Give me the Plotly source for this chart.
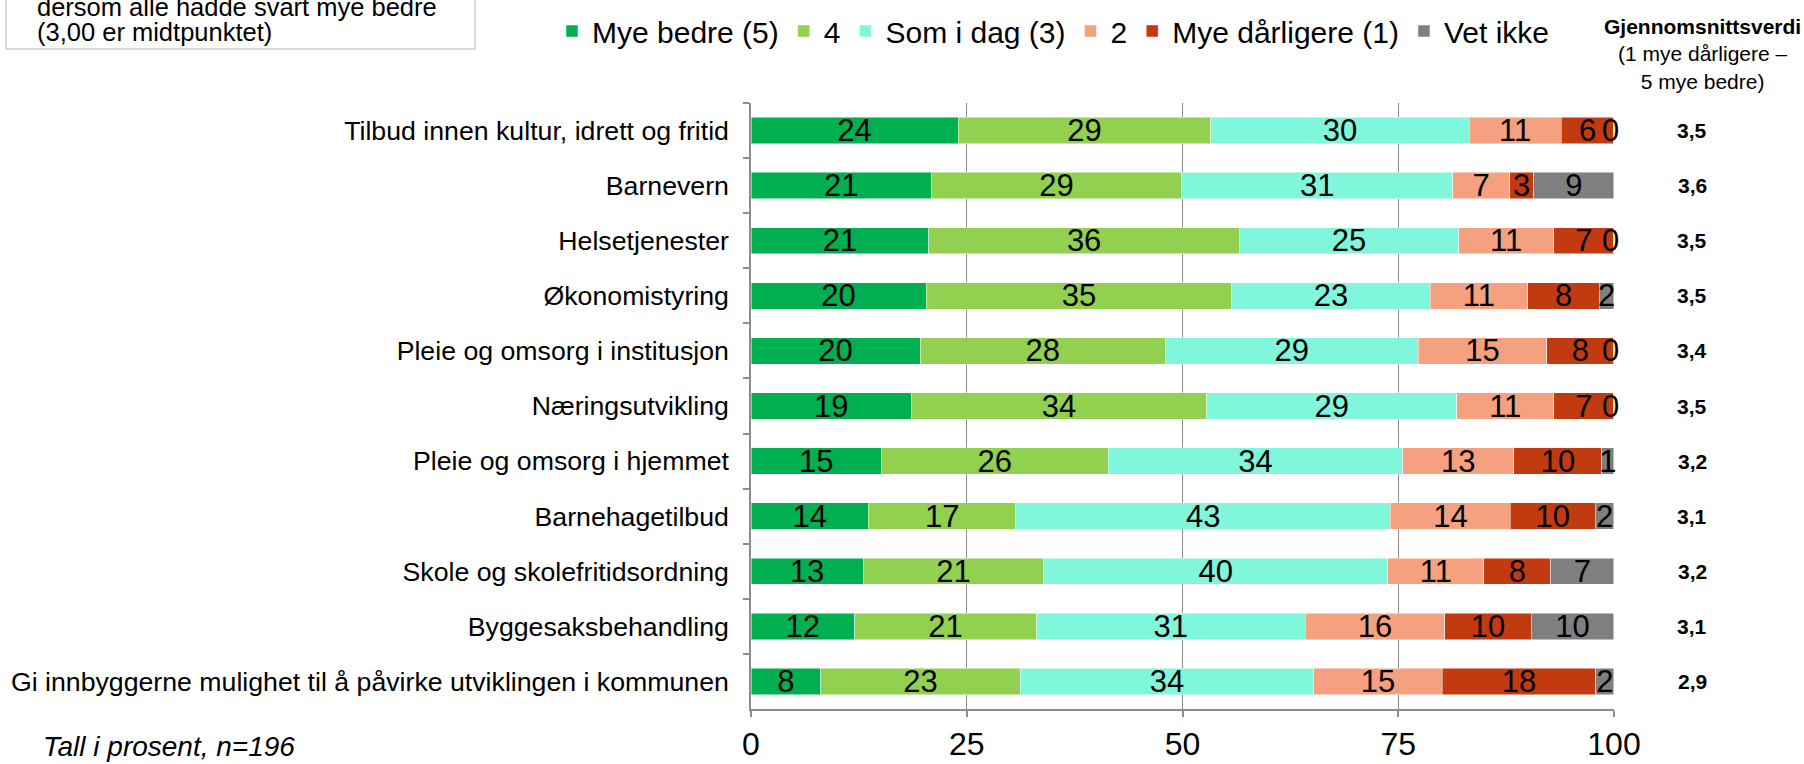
import plotly.graph_objects as go

categories = [
    "Tilbud innen kultur, idrett og fritid",
    "Barnevern",
    "Helsetjenester",
    "Økonomistyring",
    "Pleie og omsorg i institusjon",
    "Næringsutvikling",
    "Pleie og omsorg i hjemmet",
    "Barnehagetilbud",
    "Skole og skolefritidsordning",
    "Byggesaksbehandling",
    "Gi innbyggerne mulighet til å påvirke utviklingen i kommunen",
]
series_names = ["Mye bedre (5)", "4", "Som i dag (3)", "2", "Mye dårligere (1)", "Vet ikke"]
mye_bedre = [24.0, 20.9, 20.6, 20.3, 19.6, 18.6, 15.1, 13.6, 13.0, 12.0, 8.1]
fire = [29.3, 29.0, 36.0, 35.4, 28.4, 34.2, 26.3, 17.1, 20.9, 21.1, 23.1]
som_i_dag = [29.9, 31.4, 25.4, 23.0, 29.3, 29.0, 34.1, 43.4, 39.9, 31.1, 34.0]
to = [10.7, 6.6, 11.0, 11.3, 14.9, 11.2, 12.9, 13.9, 11.1, 16.2, 14.9]
mye_darligere = [6.1, 2.8, 7.0, 8.3, 7.8, 7.0, 10.2, 9.8, 7.8, 10.0, 17.8]
vet_ikke = [0.0, 9.3, 0.0, 1.7, 0.0, 0.0, 1.4, 2.2, 7.3, 9.6, 2.1]
snitt = ["3,5", "3,6", "3,5", "3,5", "3,4", "3,5", "3,2", "3,1", "3,2", "3,1", "2,9"]
x_ticks = [0, 25, 50, 75, 100]

colors = ["#00B050", "#92D050", "#80F6DA", "#F5A07F", "#C23B10", "#7F7F7F"]
FONT = "Liberation Sans, Arial, sans-serif"

W, H = 1804, 764
L, R, T, B = 751, 1804 - 1614, 103, 764 - 709
PW, PH = W - L - R, H - T - B


def px(xp):
    return (xp - L) / PW


def py(yp):
    return (H - B - yp) / PH


fig = go.Figure()
all_series = [mye_bedre, fire, som_i_dag, to, mye_darligere, vet_ikke]
for name, vals, col in zip(series_names, all_series, colors):
    txt = [f"{v:.0f}" if v > 0 else "" for v in vals]
    fig.add_trace(go.Bar(
        y=categories, x=vals, name=name, orientation="h",
        marker=dict(color=col, line=dict(color="rgba(255,255,255,0.6)", width=0.8)),
        text=txt, textposition="inside", insidetextanchor="middle",
        textangle=0, constraintext="none", cliponaxis=False,
        textfont=dict(family=FONT, size=31, color="black"),
        hoverinfo="skip",
    ))

annotations = []
# labels for zero-valued "Vet ikke" segments (Excel still prints them at bar end)
for i, cat in enumerate(categories):
    if vet_ikke[i] == 0:
        total = sum(s[i] for s in all_series)
        annotations.append(dict(x=total - 0.4, y=cat, xref="x", yref="y", text="0",
                                showarrow=False, font=dict(family=FONT, size=31, color="black")))
    annotations.append(dict(x=px(1692), y=cat, xref="paper", yref="y", text=f"<b>{snitt[i]}</b>",
                            showarrow=False, xanchor="center",
                            font=dict(family=FONT, size=21, color="black")))

annotations.append(dict(
    x=px(1702), y=py(13), xref="paper", yref="paper", xanchor="center", yanchor="top",
    text="<b>Gjennomsnittsverdi</b><br>(1 mye dårligere –<br>5 mye bedre)",
    showarrow=False, align="center", font=dict(family=FONT, size=21, color="black")))

annotations.append(dict(
    x=px(35), y=py(7), xref="paper", yref="paper", xanchor="left", yanchor="middle",
    text="dersom alle hadde svart mye bedre",
    showarrow=False, align="left", font=dict(family=FONT, size=25.5, color="black")))
annotations.append(dict(
    x=px(35), y=py(32), xref="paper", yref="paper", xanchor="left", yanchor="middle",
    text="(3,00 er midtpunktet)",
    showarrow=False, align="left", font=dict(family=FONT, size=25.5, color="black")))

annotations.append(dict(
    x=px(41), y=py(746), xref="paper", yref="paper", xanchor="left", yanchor="middle",
    text="<i>Tall i prosent, n=196</i>",
    showarrow=False, align="left", font=dict(family=FONT, size=28, color="black")))

shapes = [dict(type="rect", xref="paper", yref="paper",
               x0=px(6), x1=px(475), y0=py(49), y1=py(-20),
               line=dict(color="#D9D9D9", width=2), fillcolor="rgba(0,0,0,0)")]

fig.update_layout(
    width=W, height=H,
    margin=dict(l=L, r=R, t=T, b=B, pad=0, autoexpand=False),
    barmode="stack", bargap=0.52,
    plot_bgcolor="white", paper_bgcolor="white",
    font=dict(family=FONT, color="black"),
    uniformtext=dict(minsize=31, mode="show"),
    legend=dict(orientation="h", x=px(552), xanchor="left", y=py(31), yanchor="middle",
                font=dict(family=FONT, size=30, color="black"), traceorder="normal",
                bgcolor="rgba(0,0,0,0)", itemclick=False),
    annotations=annotations, shapes=shapes,
    showlegend=True,
)
fig.update_xaxes(range=[0, 100.001], tickvals=x_ticks, ticktext=[str(v) for v in x_ticks],
                 showgrid=True, gridcolor="#8C8C8C", gridwidth=1.3, automargin=False,
                 showline=True, linecolor="#8C8C8C", linewidth=2,
                 ticks="outside", ticklen=6, tickcolor="#8C8C8C", tickwidth=1.5,
                 ticklabelstandoff=0,
                 tickfont=dict(family=FONT, size=32, color="black"), zeroline=False, fixedrange=True)
fig.update_yaxes(autorange="reversed", showline=True, linecolor="#8C8C8C", linewidth=1.5,
                 automargin=False,
                 ticks="outside", ticklen=6, tickcolor="#8C8C8C", tickwidth=1.5,
                 tickson="boundaries", ticklabelstandoff=15,
                 tickfont=dict(family=FONT, size=26.7, color="black"), showgrid=False, fixedrange=True)

fig.write_html("out.html", config={"displayModeBar": False},
               post_script="document.body.style.margin='0px';document.body.style.overflow='hidden';")
